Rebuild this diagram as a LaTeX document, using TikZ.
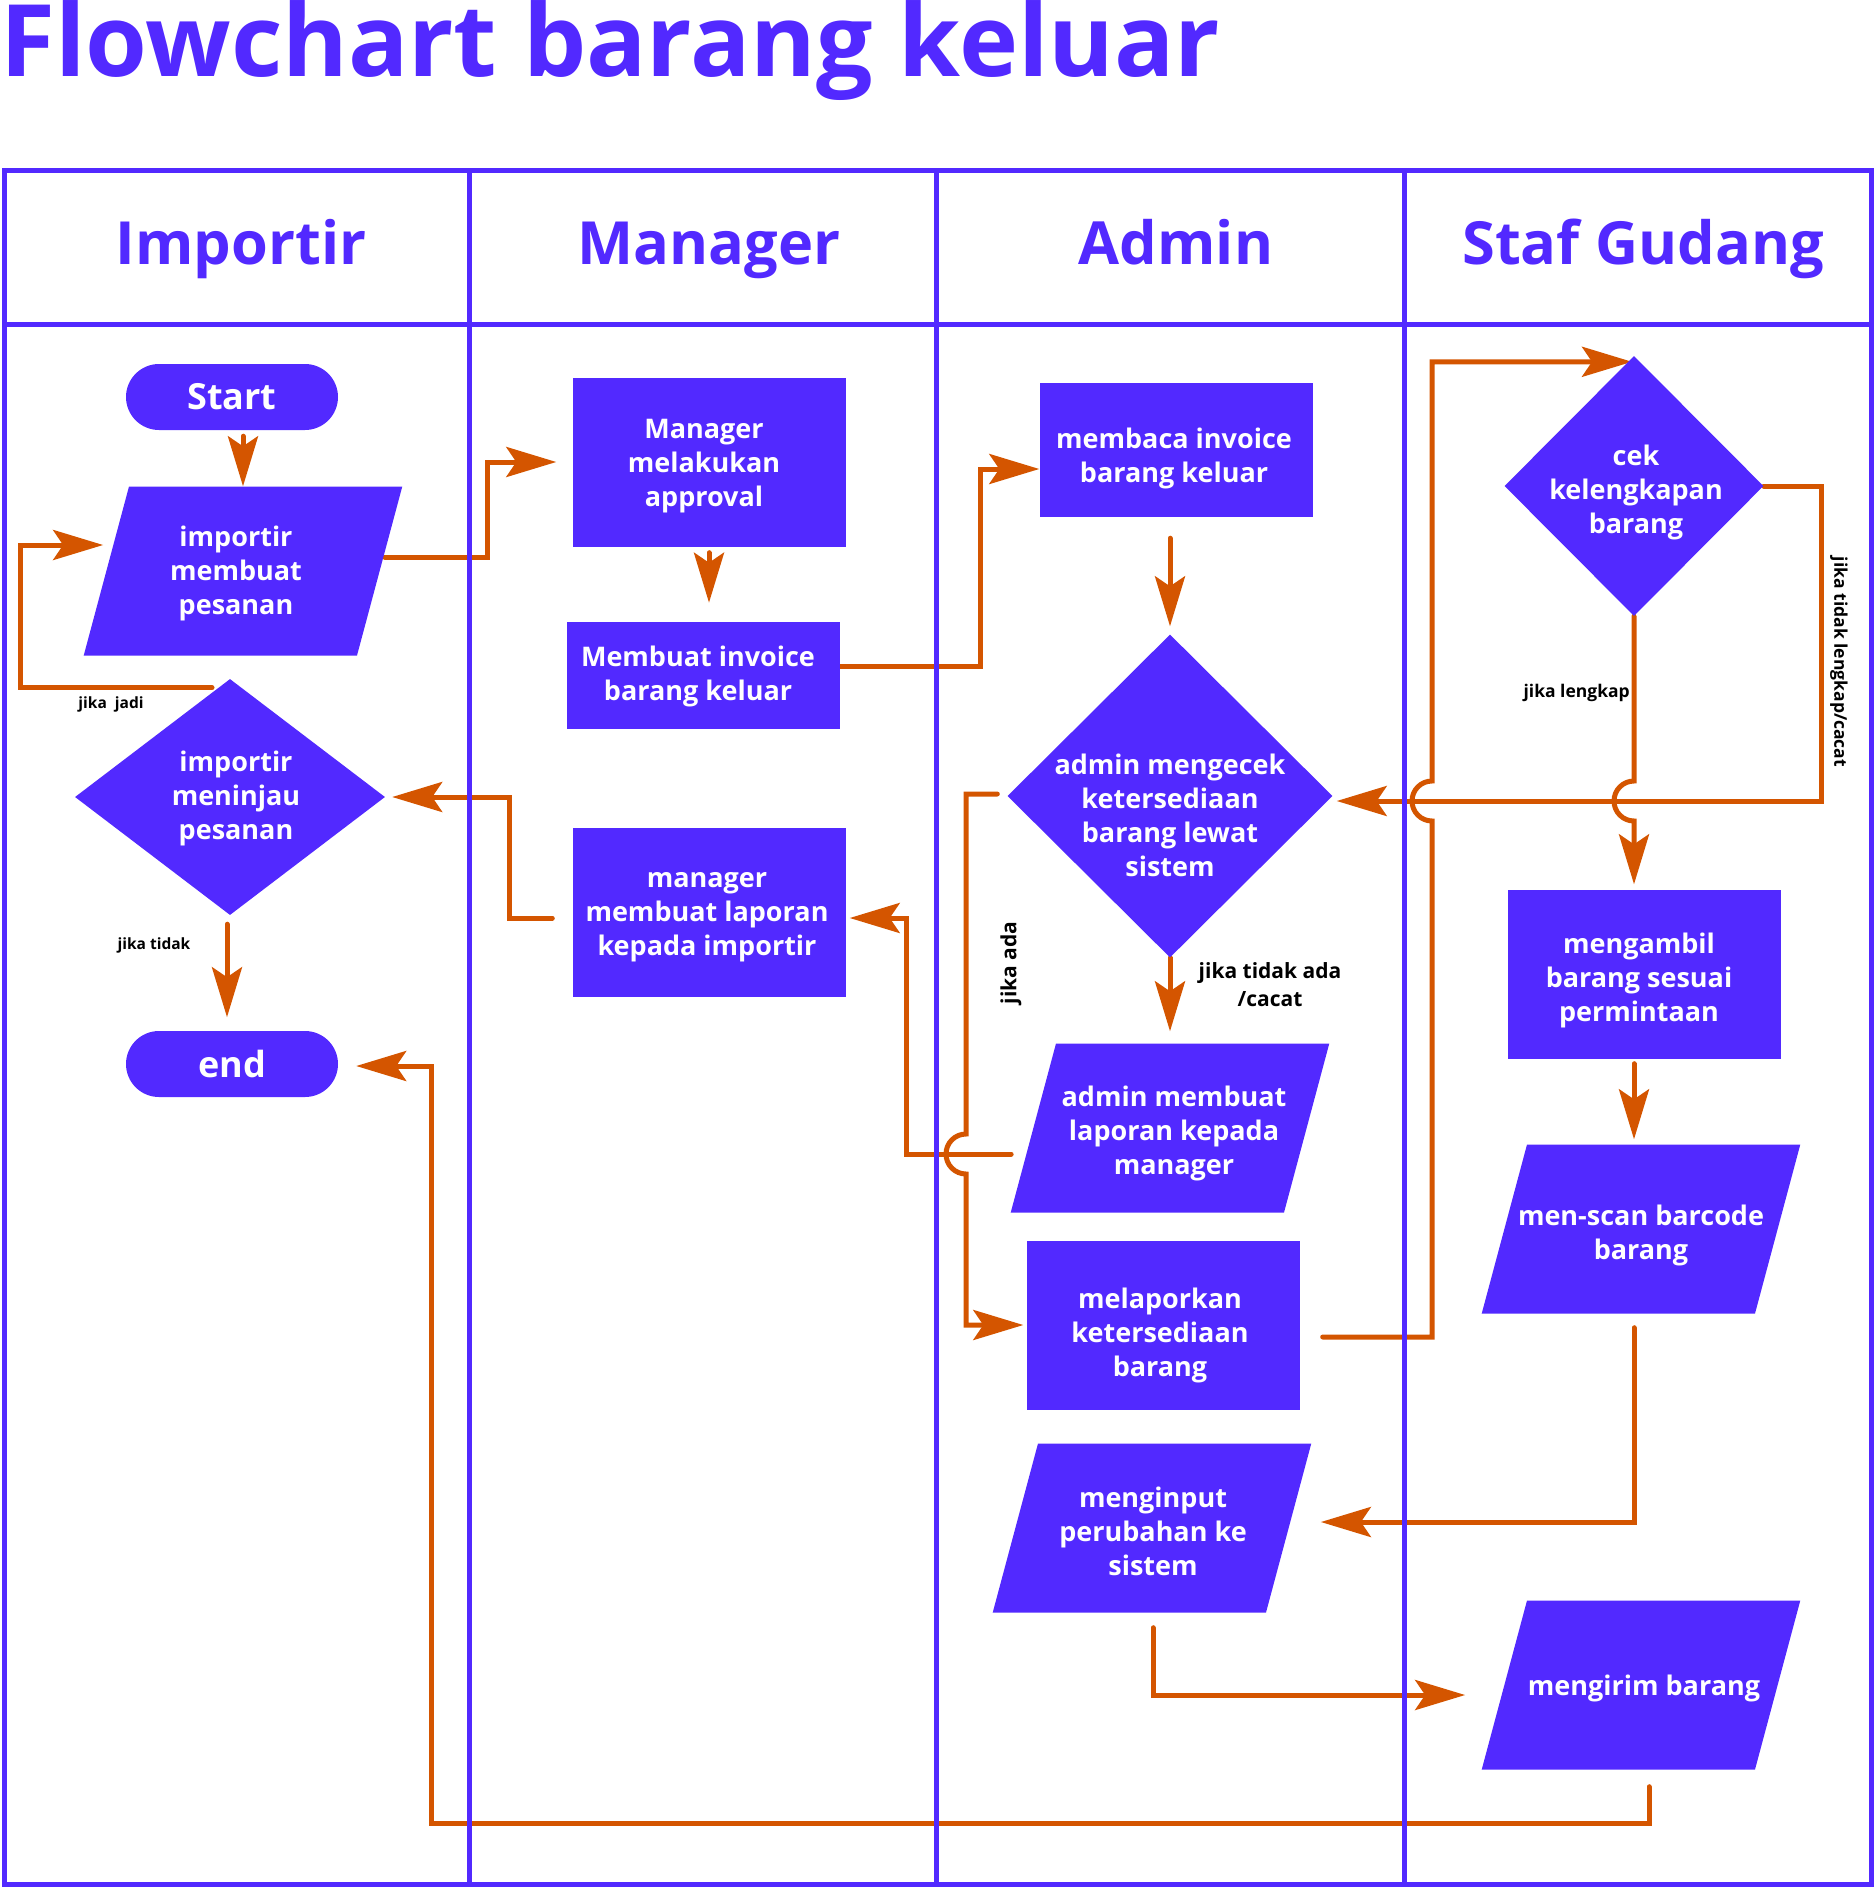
\documentclass[tikz,border=0pt]{standalone}
\usepackage{fontspec}
\setmainfont{Open Sans}
\usepackage{tikz}
\usetikzlibrary{arrows.meta,positioning,calc,shapes.geometric,backgrounds}
\definecolor{lanec}{RGB}{82,41,255}
\definecolor{flowc}{RGB}{212,85,0}
\newcommand{\boxfont}{\fontsize{27}{34}\selectfont\bfseries}
\newcommand{\pillfont}{\fontsize{36}{40}\selectfont\bfseries}
\newcommand{\headfont}{\fontsize{59.5}{70}\selectfont\bfseries}
\newcommand{\bigtitlefont}{\fontsize{100}{100}\selectfont\bfseries}
\newcommand{\notefont}{\fontsize{15.5}{18}\selectfont\bfseries}
\newcommand{\sidenotefont}{\fontsize{17.5}{20}\selectfont\bfseries}
\newcommand{\bignotefont}{\fontsize{21}{28}\selectfont\bfseries}

\begin{document}
\begin{tikzpicture}[x=1pt,y=-1pt,>={Stealth[length=50pt,width=30pt,inset=10pt]},
  lane/.style={draw=lanec,line width=5pt},
  flow/.style={draw=flowc,line width=5pt,line cap=round,->},
  box/.style={rectangle,fill=lanec,inner sep=0pt,minimum width=273pt,minimum height=169pt},
  io/.style={trapezium,trapezium left angle=75,trapezium right angle=105,fill=lanec,inner xsep=114pt,inner ysep=84.5pt},
  dec/.style={diamond,fill=lanec,inner sep=0pt},
  txt/.style={text=white,font=\boxfont,align=center},
  pill/.style={rectangle,rounded corners=33pt,fill=lanec,text=white,font=\pillfont,minimum width=212pt,minimum height=66pt},
  head/.style={anchor=base,text=lanec,font=\headfont},
  note/.style={text=black,font=\notefont,inner sep=0pt},
  bignote/.style={text=black,font=\bignotefont,inner sep=0pt}]
\useasboundingbox (0,0) rectangle (1875,1887);

\node[anchor=base west,inner sep=0pt,text=lanec,font=\bigtitlefont] (title) at (0,76) {Flowchart barang keluar};

\node[head] (hImp) at (241,264) {Importir};
\node[head] (hMan) at (709,264) {Manager};
\node[head] (hAdm) at (1176,264) {Admin};
\node[head] (hStaf) at (1643,264) {Staf Gudang};

\node[pill] (start) at (232,397) {Start};
\node[io,label={[txt,xshift=-7pt,yshift=-2pt]center:importir\\membuat\\pesanan}] (pesan) at (243,571) {};
\node[dec,minimum width=310pt,minimum height=236pt,label={[txt,xshift=6pt,yshift=-1pt]center:importir\\meninjau\\pesanan}] (tinjau) at (230,797) {};
\node[pill] (stop) at (232,1064) {end};

\node[box,label={[txt,xshift=-5pt,yshift=-4pt]center:Manager\\melakukan\\approval}] (approval) at (709,462) {};
\node[box,minimum height=107pt,label={[txt,xshift=-5pt,yshift=-1pt]center:Membuat invoice\\barang keluar}] (invoice) at (703,675) {};
\node[box,label={[txt,xshift=-2pt,yshift=-5pt]center:manager\\membuat laporan\\kepada importir}] (lapimp) at (709,912) {};

\node[box,minimum height=134pt,label={[txt,xshift=-2pt,yshift=-8pt]center:membaca invoice\\barang keluar}] (baca) at (1176,450) {};
\node[dec,minimum width=325pt,minimum height=323pt,label={[txt,yshift=-19pt]center:admin mengecek\\ketersediaan\\barang lewat\\sistem}] (cek) at (1170,796) {};
\node[io,label={[txt,xshift=4pt,yshift=-5.5pt]center:admin membuat\\laporan kepada\\manager}] (lapman) at (1170,1128) {};
\node[box,label={[txt,xshift=-3pt,yshift=-10pt]center:melaporkan\\ketersediaan\\barang}] (lapor) at (1163,1325) {};
\node[io,label={[txt,xshift=1pt,yshift=-3pt]center:menginput\\perubahan ke\\sistem}] (input) at (1152,1528) {};

\node[dec,minimum width=259pt,minimum height=260pt,label={[txt,xshift=2pt,yshift=-6pt]center:cek\\kelengkapan\\barang}] (lengkap) at (1634,486) {};
\node[box,label={[txt,xshift=-5pt,yshift=-6pt]center:mengambil\\barang sesuai\\permintaan}] (ambil) at (1644,974) {};
\node[io,label={[txt,yshift=-6pt]center:men-scan barcode\\barang}] (scan) at (1641,1229) {};
\node[io,label={[txt,xshift=3pt,yshift=-3pt]center:mengirim barang}] (kirim) at (1641,1685) {};

\node[note] (lbJadi) at (111,704) {jika\ \ jadi};
\node[note] (lbTidak) at (154,945) {jika tidak};
\node[bignote,align=center] (lbCacat) at (1270,985) {jika tidak ada\\/cacat};
\node[bignote,rotate=90] (lbAda) at (1011,963) {jika ada};
\node[note,font=\sidenotefont,anchor=east] (lbLengkap) at (1630,693) {jika lengkap};
\node[note,font=\sidenotefont,rotate=-90] (lbKurang) at (1839,662) {jika tidak lengkap/cacat};

\begin{scope}[on background layer]
  \draw[flow] (pesan.north |- start.south) ++(0,6) -- (pesan.north);
  \draw[flow] ($(pesan.east)+(5,-14)$) -| (487,462) -- ($(approval.west)+(-16,0)$);
  \draw[flow] ($(approval.south)+(0,6)$) -- ++(0,50);
  \draw[flow] ($(invoice.east)+(0,-9)$) -| (980,469) -- (baca.west |- 0,469);
  \draw[flow] (cek.north |- baca.south) ++(0,21) -- ($(cek.north)+(0,-8)$);
  \draw[flow] (cek.south) -- ($(lapman.north)+(0,-12)$);
  \draw[flow] ($(cek.west)+(-10,-2)$) -| (966,1134) arc(270:90:20) |- ($(lapor.west)+(-3,0)$);
  \draw[flow] ($(lapman.west)+(-22,26)$) -| (906,918) -- ($(lapimp.east)+(4,6)$);
  \draw[flow] ($(lapimp.west)+(-20,6)$) -| (509,797) -- ($(tinjau.east)+(7,0)$);
  \draw[flow] ($(tinjau.south)+(-3,9)$) -- ++(0,93);
  \draw[flow] ($(tinjau.north)+(-18,9)$) -| (20,545) -- ($(pesan.west)+(-3,-26)$);
  \draw[flow] ($(lapor.east)+(23,12)$) -| (1432,821) arc(90:270:20) |- ($(lengkap.north)+(-2,6)$);
  \draw[flow] (lengkap.south) -- (1634,781) arc(270:90:20) -- ($(lengkap.south |- ambil.north)+(0,-5)$);
  \draw[flow] (lengkap.east) -| (1821,801) -- ($(cek.east)+(4,5)$);
  \draw[flow] ($(lengkap.south |- ambil.south)+(0,5)$) -- ($(lengkap.south |- scan.north)+(0,-5)$);
  \draw[flow] ($(lengkap.south |- scan.south)+(0,14)$) |- ($(input.east)+(32,-6)$);
  \draw[flow] ($(input.south)+(1,15)$) |- ($(kirim.west)+(-39,10)$);
  \draw[flow] ($(kirim.south)+(8,17)$) |- (431,1823) |- ($(stop.east)+(18,2)$);

  \draw[lane] (4,170) rectangle (1871,1884);
  \draw[lane] (4,324) -- (1871,324);
  \foreach \x in {469,936,1404}
    \draw[lane] (\x,170) -- (\x,1884);
\end{scope}
\end{tikzpicture}
\end{document}
